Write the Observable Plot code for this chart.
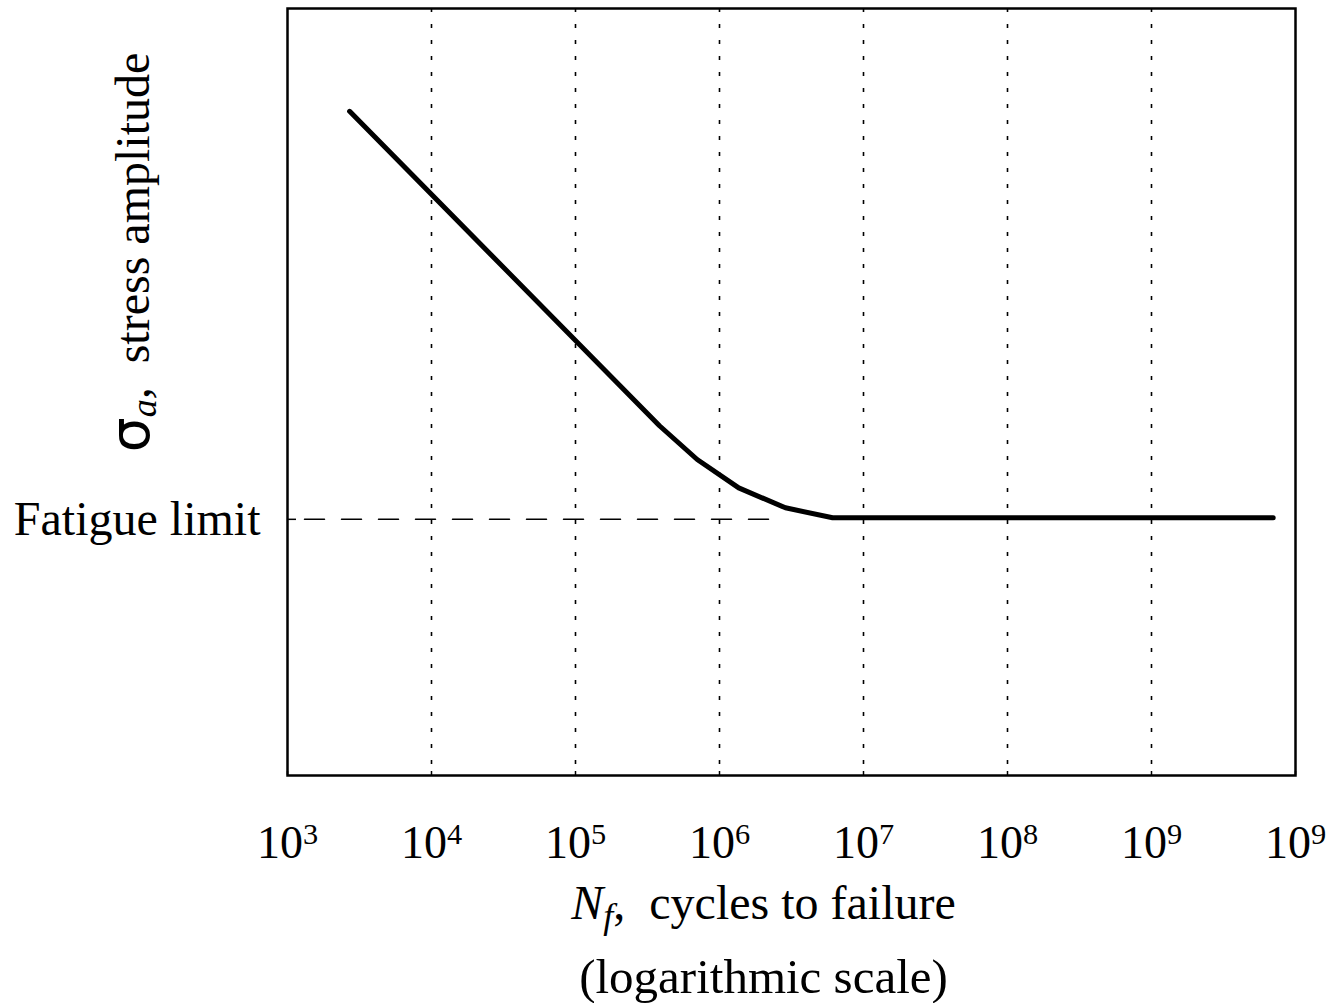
<!DOCTYPE html>
<html><head><meta charset="utf-8">
<script src="https://cdn.jsdelivr.net/npm/d3@7"></script>
<script src="https://cdn.jsdelivr.net/npm/@observablehq/plot@0.6"></script>
<style>
html,body{margin:0;padding:0;background:#fff}
#chart svg{display:block}
</style>
</head><body><div id="chart"></div>
<script>
// ---- data ----
const cycles = [2.7e3, 3.83e5, 7.0e5, 1.36e6, 2.87e6, 6.1e6, 7.0e9];
const stress = [86.6, 45.6, 41.2, 37.5, 34.9, 33.6, 33.6];
const fatigueLimit = 33.4;
const fatigueDashEnd = 2.2e6;
const tickValues = [1e3, 1e4, 1e5, 1e6, 1e7, 1e8, 1e9, 1e10];
const tickExponents = ["3", "4", "5", "6", "7", "8", "9", "9"];
const gridValues = [1e4, 1e5, 1e6, 1e7, 1e8, 1e9];
const fatigueLabel = "Fatigue limit";
const yLabel = "σa, stress amplitude";
const xLabel1 = "Nf, cycles to failure";
const xLabel2 = "(logarithmic scale)";

// ---- layout ----
const W = 1339, H = 1003, mL = 287, mR = 44, mT = 8, mB = 228;
const innerW = W - mL - mR, innerH = H - mT - mB;
const curve = cycles.map((c, i) => ({c, s: stress[i]}));
const dash = [{c: tickValues[0], s: fatigueLimit}, {c: fatigueDashEnd, s: fatigueLimit}];

const chart = Plot.plot({
  width: W, height: H,
  marginLeft: mL, marginRight: mR, marginTop: mT, marginBottom: mB,
  style: {fontFamily: "'Liberation Serif','Times New Roman',serif", color: "#000", background: "#fff"},
  x: {type: "log", domain: [tickValues[0], tickValues[tickValues.length - 1]]},
  y: {domain: [0, 100]},
  marks: [
    Plot.ruleX(gridValues, {stroke: "#000", strokeWidth: 1.6, strokeDasharray: "4,12"}),
    Plot.ruleX(tickValues, {stroke: "#000", strokeWidth: 1.5, insetTop: innerH - 4}),
    Plot.ruleY([fatigueLimit], {stroke: "#000", strokeWidth: 1.5, insetRight: innerW - 9}),
    Plot.line(dash, {x: "c", y: "s", stroke: "#000", strokeWidth: 1.5, strokeDasharray: "20,17", strokeDashoffset: 20}),
    Plot.line(curve, {x: "c", y: "s", stroke: "#000", strokeWidth: 5, strokeLinejoin: "round"}),
    Plot.frame({stroke: "#000", strokeWidth: 2.5}),
    Plot.axisX(tickValues, {
      tickSize: 0, tickPadding: 50, fontSize: 46, label: null,
      tickFormat: d => "10^" + tickExponents[tickValues.indexOf(d)]
    }),
    Plot.axisY([fatigueLimit], {
      tickSize: 0, tickPadding: 27, fontSize: 48, label: null,
      tickFormat: () => fatigueLabel
    }),
    Plot.text([yLabel], {frameAnchor: "top-left", dx: -139, dy: 244, rotate: -90, lineAnchor: "bottom", textAnchor: "middle", fontSize: 48}),
    Plot.text([xLabel1], {frameAnchor: "bottom", dx: -28, dy: 143, lineAnchor: "bottom", fontSize: 48}),
    Plot.text([xLabel2], {frameAnchor: "bottom", dx: -28, dy: 217, lineAnchor: "bottom", fontSize: 49})
  ]
});
document.getElementById("chart").appendChild(chart);

// ---- post-process: superscripts and subscripts ----
const NS = "http://www.w3.org/2000/svg";
function tspan(parent, txt, attrs) {
  const t = document.createElementNS(NS, "tspan");
  t.textContent = txt;
  for (const k in attrs) t.setAttribute(k, attrs[k]);
  parent.appendChild(t);
  return t;
}
chart.querySelectorAll('g[aria-label="x-axis tick label"] text').forEach(el => {
  const [base, exp] = el.textContent.split("^");
  el.textContent = "";
  tspan(el, base, {});
  tspan(el, exp, {dy: "-0.46em", "font-size": "0.66em"});
});
chart.querySelectorAll("text").forEach(el => {
  if (el.textContent === yLabel) {
    el.textContent = "";
    tspan(el, "σ", {"font-family": "'DejaVu Sans',sans-serif", "font-size": "1.15em"});
    tspan(el, "a", {dy: "0.22em", "font-size": "0.75em", "font-style": "italic"});
    tspan(el, ",", {dy: "-0.165em", "font-style": "italic"});
    tspan(el, "stress amplitude", {dx: "0.5em"});
  } else if (el.textContent === xLabel1) {
    el.textContent = "";
    tspan(el, "N", {"font-style": "italic"});
    tspan(el, "f", {dy: "0.25em", "font-size": "0.75em", "font-style": "italic"});
    tspan(el, ",", {dy: "-0.1875em"});
    tspan(el, "cycles to failure", {dx: "0.5em"});
  }
});
</script>
</body></html>
